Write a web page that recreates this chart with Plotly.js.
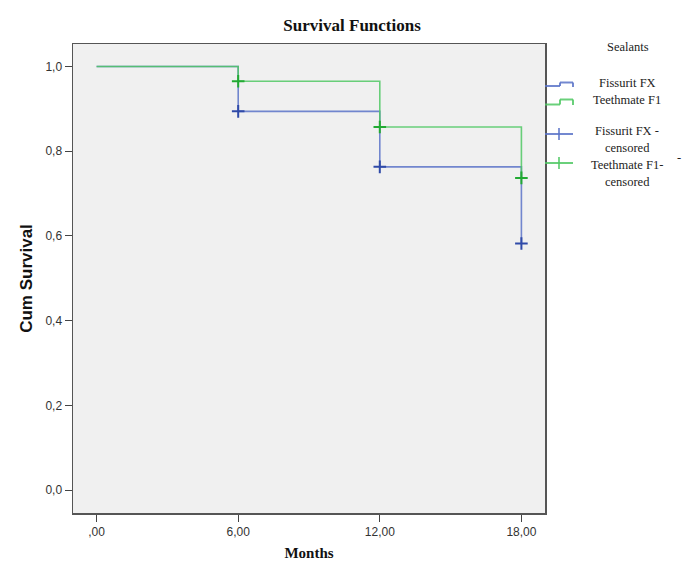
<!DOCTYPE html>
<html>
<head>
<meta charset="utf-8">
<script src="https://cdn.plot.ly/plotly-3.0.1.min.js"></script>
<style>html,body{margin:0;padding:0;background:#fff;}#chart{width:685px;height:561px;}</style>
</head>
<body>
<div id="chart"></div>
<script>
// Data
const months = [0, 6, 12, 18];
const fissuritSurv = [1.0, 0.894, 0.763, 0.582];
const teethmateSurv = [1.0, 0.965, 0.857, 0.737];
const censorMonths = [6, 12, 18];
const fissuritCensor = [0.894, 0.763, 0.582];
const teethmateCensor = [0.965, 0.857, 0.737];
const xTickVals = [0, 6, 12, 18];
const xTickText = [",00", "6,00", "12,00", "18,00"];
const yTickVals = [0, 0.2, 0.4, 0.6, 0.8, 1.0];
const yTickText = ["0,0", "0,2", "0,4", "0,6", "0,8", "1,0"];
const legendLabels = ["Fissurit FX", "Teethmate F1", "Fissurit FX -", "censored", "Teethmate F1-", "censored"];

const blueLine = "rgba(90,115,200,0.85)";
const greenLine = "rgba(80,200,100,0.85)";
const blueMark = "#2f4aa8";
const greenMark = "#22aa33";

const traces = [
  {x: months, y: fissuritSurv, mode: "lines", line: {shape: "hv", color: blueLine, width: 1.6}, showlegend: false, hoverinfo: "skip"},
  {x: months, y: teethmateSurv, mode: "lines", line: {shape: "hv", color: greenLine, width: 1.6}, showlegend: false, hoverinfo: "skip"},
  {x: censorMonths, y: fissuritCensor, mode: "markers", marker: {symbol: "cross-thin", size: 9, line: {color: blueMark, width: 2}}, showlegend: false},
  {x: censorMonths, y: teethmateCensor, mode: "markers", marker: {symbol: "cross-thin", size: 9, line: {color: greenMark, width: 2}}, showlegend: false}
];

// plot area in pixels: left 73, right 545, top 44, bottom 513
const L = 73, R = 545, T = 44, B = 513;
const px = v => (v - L) / (R - L);
const py = v => (B - v) / (B - T);

function stepIcon(yLow, yHigh, yEnd, color) {
  const pts = [[545, yLow], [560, yLow], [560, yHigh], [573, yHigh], [573, yEnd]];
  const out = [];
  for (let i = 0; i < pts.length - 1; i++) {
    out.push({type: "line", xref: "paper", yref: "paper",
      x0: px(pts[i][0]), y0: py(pts[i][1]), x1: px(pts[i + 1][0]), y1: py(pts[i + 1][1]),
      line: {color: color, width: 2}});
  }
  return out;
}
const legendShapes = [].concat(stepIcon(86, 82.5, 87, blueLine), stepIcon(104.5, 99.5, 105, greenLine));
[[134, blueLine], [163, greenLine]].forEach(([yy, c]) => {
  legendShapes.push({type: "line", xref: "paper", yref: "paper", x0: px(545), x1: px(573), y0: py(yy), y1: py(yy), line: {color: c, width: 2}});
  legendShapes.push({type: "line", xref: "paper", yref: "paper", x0: px(559), x1: px(559), y0: py(yy - 6), y1: py(yy + 6), line: {color: c, width: 1.8}});
});

const legendY = [83, 100, 131, 148, 165, 182];
const lfont = {family: "Liberation Serif, serif", size: 12.5, color: "#222"};
const annotations = [
  {text: "Sealants", xref: "paper", yref: "paper", x: px(628), y: py(47), showarrow: false, xanchor: "center", yanchor: "middle", font: lfont},
  {text: "-", xref: "paper", yref: "paper", x: px(679), y: py(158), showarrow: false, xanchor: "center", yanchor: "middle", font: lfont}
];
legendLabels.forEach((t, i) => {
  annotations.push({text: t, xref: "paper", yref: "paper", x: px(627), y: py(legendY[i]), showarrow: false, xanchor: "center", yanchor: "middle", font: lfont});
});

const layout = {
  width: 685, height: 561,
  margin: {l: L, r: 685 - R, t: T, b: 561 - B, pad: 0},
  paper_bgcolor: "#ffffff",
  plot_bgcolor: "#f0f0f0",
  title: {text: "<b>Survival Functions</b>", x: 0.514, xanchor: "center", y: 0.956, yanchor: "middle", font: {family: "Liberation Serif, serif", size: 17, color: "#111"}},
  xaxis: {
    range: [-1, 19], tickvals: xTickVals, ticktext: xTickText, ticks: "outside", ticklen: 7, tickcolor: "#444", tickwidth: 1,
    showgrid: false, zeroline: false, showline: true, mirror: true, linecolor: "#555", linewidth: 1.5,
    tickfont: {family: "Liberation Sans, Arial, sans-serif", size: 12, color: "#333"},
    title: {text: "<b>Months</b>", standoff: 12, font: {family: "Liberation Serif, serif", size: 15, color: "#111"}}
  },
  yaxis: {
    range: [-0.054, 1.053], tickvals: yTickVals, ticktext: yTickText, ticks: "outside", ticklen: 7, tickcolor: "#444", tickwidth: 1,
    showgrid: false, zeroline: false, showline: true, mirror: true, linecolor: "#555", linewidth: 1.5,
    tickfont: {family: "Liberation Sans, Arial, sans-serif", size: 12, color: "#333"},
    title: {text: "<b>Cum Survival</b>", standoff: 8, font: {family: "Liberation Sans, Arial, sans-serif", size: 17, color: "#111"}}
  },
  shapes: legendShapes,
  annotations: annotations,
  showlegend: false
};

Plotly.newPlot("chart", traces, layout, {displayModeBar: false, staticPlot: true});
</script>
</body>
</html>
